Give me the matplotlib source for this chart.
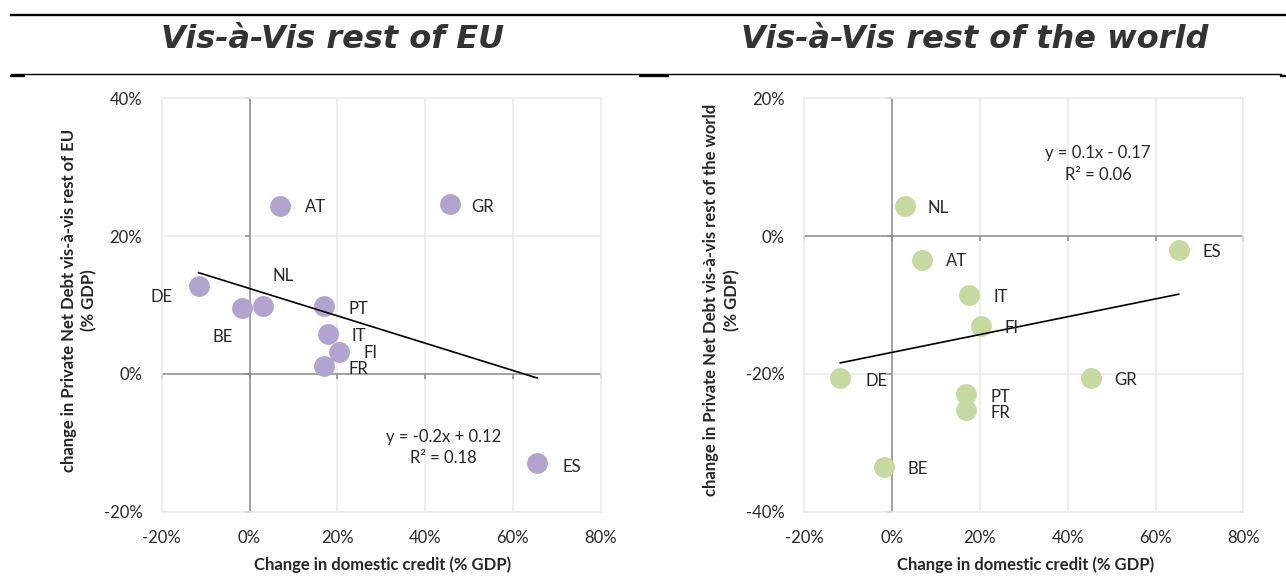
import numpy as np
import matplotlib.pyplot as plt
from matplotlib.lines import Line2D

# data (values in %)
countries_eu = ["AT", "GR", "NL", "DE", "BE", "PT", "IT", "FI", "FR", "ES"]
credit_eu = [6.9, 45.6, 3.0, -11.6, -1.8, 17.0, 17.8, 20.4, 17.0, 65.5]
debt_eu = [24.4, 24.7, 9.8, 12.8, 9.6, 9.8, 5.8, 3.2, 1.1, -12.9]

countries_world = ["NL", "AT", "IT", "FI", "DE", "GR", "PT", "FR", "BE", "ES"]
credit_world = [2.9, 6.85, 17.5, 20.2, -11.8, 45.3, 16.9, 16.9, -1.9, 65.3]
debt_world = [4.3, -3.4, -8.6, -13.1, -20.6, -20.6, -22.9, -25.3, -33.5, -2.0]

x_ticks = [-20, 0, 20, 40, 60, 80]
y_ticks_eu = [-20, 0, 20, 40]
y_ticks_world = [-40, -20, 0, 20]

eq_eu = "y = -0.2x + 0.12\nR² = 0.18"
eq_world = "y = 0.1x - 0.17\nR² = 0.06"

title_eu = "Vis-à-Vis rest of EU"
title_world = "Vis-à-Vis rest of the world"
ylab_eu = "change in Private Net Debt vis-à-vis rest of EU\n(% GDP)"
ylab_world = "change in Private Net Debt vis-à-vis rest of the world\n(% GDP)"
xlab = "Change in domestic credit (% GDP)"

# label offsets in pixels (dx, dy)
off_eu = {"AT": (25, -1), "GR": (22, -3), "NL": (10, 30), "DE": (-48, -11),
          "BE": (-29, -29), "PT": (24, -3), "IT": (24, -2), "FI": (24, -1),
          "FR": (24, -3), "ES": (25, -4)}
off_world = {"NL": (23, -2), "AT": (24, -1), "IT": (25, -2), "FI": (24, -2),
             "DE": (25, -3), "GR": (23, -2), "PT": (24, -3), "FR": (24, -3),
             "BE": (24, -2), "ES": (24, -2)}

plt.rcParams['font.family'] = ['Lato', 'DejaVu Sans']
txt = '#262626'
W, H = 1286, 576

fig = plt.figure(figsize=(12.86, 5.76), dpi=100)
fig.patch.set_facecolor('white')


def panel(rect, names, xs, ys, yticks, color, offs, eq, eq_xy):
    ax = fig.add_axes(rect)
    ax.set_xlim(x_ticks[0], x_ticks[-1])
    ax.set_ylim(yticks[0], yticks[-1])
    ax.set_xticks(x_ticks)
    ax.set_xticklabels([f"{v}%" for v in x_ticks])
    ax.set_yticks(yticks)
    ax.set_yticklabels([f"{v}%" for v in yticks])
    ax.tick_params(axis='x', length=0, pad=13, labelsize=12, labelcolor=txt)
    ax.tick_params(axis='y', length=0, pad=14, labelsize=12, labelcolor=txt)
    ax.grid(True, color='#ebebeb', lw=1.1, zorder=0)
    ax.set_axisbelow(True)
    for s in ax.spines.values():
        s.set_color('#ebebeb')
        s.set_linewidth(1.1)
    # zero axes with small ticks
    ax.axhline(0, color='#8c8c8c', lw=1.1, zorder=1)
    ax.axvline(0, color='#8c8c8c', lw=1.1, zorder=1)
    ax.plot(x_ticks, [0] * len(x_ticks), ls='none', marker=3, ms=3.5,
            mew=1.1, color='#8c8c8c', clip_on=False, zorder=1)
    ax.plot([0] * len(yticks), yticks, ls='none', marker=0, ms=3.5,
            mew=1.1, color='#8c8c8c', clip_on=False, zorder=1)

    ax.scatter(xs, ys, s=225, color=color, linewidths=0, zorder=3)
    b, a = np.polyfit(xs, ys, 1)
    xl = np.array([min(xs), max(xs)])
    ax.plot(xl, a + b * xl, color='black', lw=1.2, zorder=4)

    for n, x, y in zip(names, xs, ys):
        dx, dy = offs[n]
        ax.annotate(n, (x, y), xytext=(dx, dy), textcoords='offset pixels',
                    ha='left', va='center', fontsize=12, color=txt, zorder=5)
    ax.text(eq_xy[0], eq_xy[1], eq, ha='center', va='center', fontsize=12,
            color=txt, linespacing=1.4, zorder=5)
    return ax


ax1 = panel([161.7 / W, 1 - 511.7 / H, 439 / W, 413.4 / H], countries_eu,
            credit_eu, debt_eu, y_ticks_eu, '#b3a3cf', off_eu, eq_eu,
            (44.2, -10.65))
ax2 = panel([804.3 / W, 1 - 511.7 / H, 439 / W, 413.4 / H], countries_world,
            credit_world, debt_world, y_ticks_world, '#c5d9a0', off_world,
            eq_world, (46.9, 10.45))

# titles
for x, t in [(333, title_eu), (975, title_world)]:
    fig.text(x / W, 1 - 47.7 / H, t, ha='center', va='baseline',
             family='DejaVu Sans', fontweight='bold', style='italic',
             fontsize=23, color='#333333')

# axis labels
for x, t in [(79, ylab_eu), (721.5, ylab_world)]:
    fig.text(x / W, 1 - 300 / H, t, rotation=90, ha='center', va='center',
             multialignment='center', fontsize=12, fontweight='bold',
             color=txt, linespacing=1.35)
for x in [383, 1026]:
    fig.text(x / W, 1 - 565 / H, xlab, ha='center', va='center',
             fontsize=12, fontweight='bold', color=txt)

# horizontal rules around the titles
fig.add_artist(Line2D([11 / W, 1], [1 - 15 / H] * 2, lw=1.7, color='black'))
fig.add_artist(Line2D([11 / W, 1281 / W], [1 - 74 / H] * 2, lw=1.0, color='black'))
for x0, x1 in [(11, 24), (640, 668), (1281, 1286)]:
    fig.add_artist(Line2D([x0 / W, x1 / W], [1 - 75.5 / H] * 2, lw=1.6, color='black'))

fig.savefig('out.png', dpi=100, facecolor='white')
